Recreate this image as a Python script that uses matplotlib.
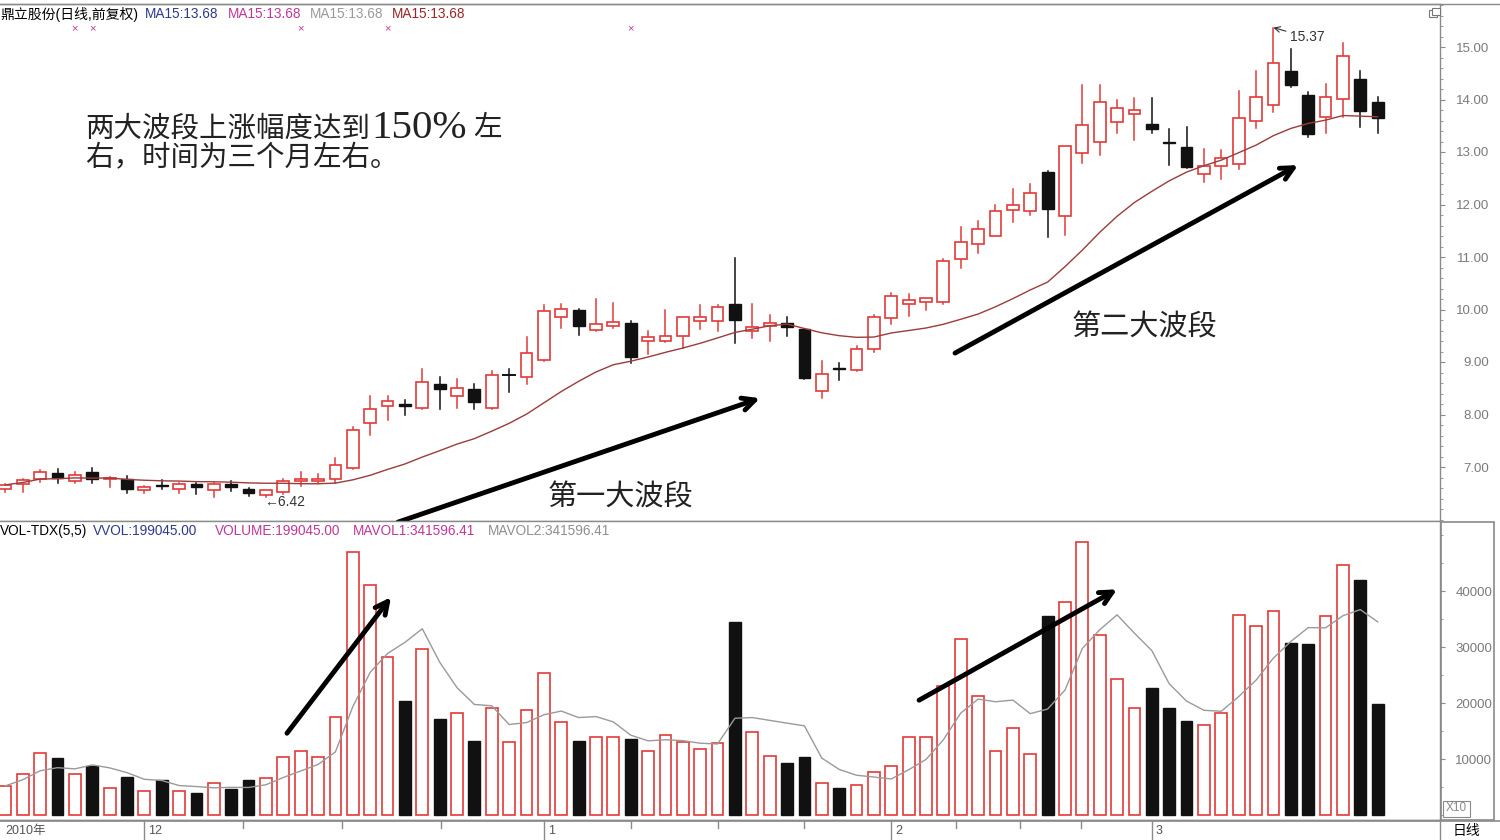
import matplotlib
matplotlib.use('Agg')
import matplotlib.pyplot as plt
import matplotlib.transforms as mtransforms
from matplotlib.patches import Rectangle
from matplotlib.lines import Line2D
from matplotlib.ticker import MultipleLocator
import pandas as pd

plt.rcParams['font.family'] = ['Liberation Sans', 'Noto Sans CJK SC', 'DejaVu Sans']

# ---------------- data ----------------
opens = [6.58, 6.67, 6.78, 6.88, 6.74, 6.91, 6.77, 6.77, 6.56, 6.66,
         6.59, 6.67, 6.56, 6.67, 6.58, 6.47, 6.52, 6.74, 6.74, 6.78,
         6.98, 7.84, 8.17, 8.20, 8.12, 8.58, 8.35, 8.48, 8.13, 8.75,
         8.72, 9.04, 9.85, 9.99, 9.61, 9.69, 9.75, 9.40, 9.40, 9.50,
         9.79, 9.79, 10.10, 9.60, 9.69, 9.74, 9.62, 8.45, 8.89, 8.85,
         9.24, 9.83, 10.10, 10.15, 10.15, 10.96, 11.25, 11.40, 11.90, 11.88,
         12.62, 11.79, 12.99, 13.20, 13.58, 13.72, 13.53, 13.19, 13.09, 12.58,
         12.74, 12.78, 13.59, 13.90, 14.55, 14.09, 13.67, 14.01, 14.40, 13.96]
highs = [6.68, 6.77, 6.94, 6.96, 6.90, 6.98, 6.81, 6.82, 6.63, 6.75,
         6.70, 6.70, 6.70, 6.73, 6.60, 6.57, 6.77, 6.90, 6.86, 7.17,
         7.76, 8.35, 8.35, 8.28, 8.86, 8.72, 8.67, 8.58, 8.83, 8.86,
         9.47, 10.08, 10.10, 10.01, 10.20, 10.13, 9.79, 9.60, 10.00, 9.86,
         10.09, 10.09, 10.98, 10.10, 9.90, 9.85, 9.63, 9.02, 8.98, 9.30,
         9.90, 10.32, 10.30, 10.21, 10.96, 11.58, 11.69, 11.99, 12.29, 12.40,
         12.63, 13.12, 14.28, 14.28, 13.99, 14.02, 14.02, 13.43, 13.47, 13.05,
         13.04, 14.17, 14.55, 15.37, 14.96, 14.15, 14.30, 15.08, 14.54, 14.04]
lows = [6.52, 6.53, 6.71, 6.69, 6.69, 6.69, 6.62, 6.50, 6.50, 6.59,
        6.50, 6.49, 6.43, 6.54, 6.45, 6.42, 6.48, 6.64, 6.69, 6.70,
        6.96, 7.61, 7.90, 7.99, 8.10, 8.10, 8.12, 8.10, 8.10, 8.43,
        8.59, 9.02, 9.64, 9.51, 9.60, 9.64, 8.99, 9.15, 9.38, 9.26,
        9.62, 9.60, 9.37, 9.45, 9.40, 9.50, 8.68, 8.31, 8.66, 8.83,
        9.20, 9.72, 9.88, 10.00, 10.10, 10.80, 11.08, 11.40, 11.67, 11.80,
        11.39, 11.42, 12.79, 12.94, 13.37, 13.23, 13.36, 12.75, 12.70, 12.43,
        12.48, 12.67, 13.46, 13.77, 14.23, 13.29, 13.37, 13.67, 13.47, 13.37]
closes = [6.66, 6.75, 6.90, 6.80, 6.85, 6.77, 6.80, 6.58, 6.62, 6.64,
          6.68, 6.61, 6.68, 6.61, 6.51, 6.56, 6.74, 6.78, 6.78, 7.04,
          7.70, 8.10, 8.26, 8.17, 8.62, 8.49, 8.51, 8.23, 8.75, 8.75,
          9.18, 9.97, 10.01, 9.69, 9.72, 9.77, 9.10, 9.47, 9.50, 9.85,
          9.85, 10.04, 9.80, 9.67, 9.74, 9.66, 8.70, 8.78, 8.87, 9.25,
          9.85, 10.26, 10.18, 10.21, 10.92, 11.28, 11.53, 11.88, 11.99, 12.22,
          11.91, 13.11, 13.51, 13.95, 13.83, 13.80, 13.44, 13.17, 12.72, 12.74,
          12.88, 13.65, 14.04, 14.70, 14.28, 13.34, 14.05, 14.83, 13.78, 13.64]
volumes = [5200, 7400, 11100, 10100, 7400, 8700, 4800, 6800, 4200, 6300,
           4200, 3900, 5700, 4600, 6200, 6600, 10400, 11500, 10400, 17500,
           46900, 41100, 28300, 20300, 29700, 17100, 18300, 13300, 19100, 13000,
           18800, 25300, 16600, 13300, 13900, 14000, 13500, 11500, 14300, 13100,
           11700, 12800, 34500, 14900, 10600, 9200, 10400, 5700, 4800, 5400,
           7600, 8700, 13900, 14000, 23000, 31400, 21200, 11500, 15500, 10900,
           35500, 38100, 48700, 32200, 24200, 19100, 22600, 19100, 16700, 16000,
           18200, 35700, 33800, 36400, 30800, 30600, 35500, 44600, 41900, 19900]

month_labels = ['12', '1', '2', '3']
month_start_idx = [8, 31, 51, 66]
minor_date_ticks = [13.7, 19.4, 25.1, 36.0, 41.0, 46.0, 54.7, 58.4, 61.9]
signal_mark_idx = [4, 5, 17, 22, 36]
price_ticks = [7, 8, 9, 10, 11, 12, 13, 14, 15]
vol_ticks = [10000, 20000, 30000, 40000]

# ---------------- figure ----------------
W, H = 1500, 840
fig = plt.figure(figsize=(W / 100, H / 100), dpi=100)


def fy(py):
    return 1 - py / H


RED = '#e23a3a'
BLACK = '#111111'
GRID = '#8a8a8a'
LBL = '#7a7a7a'

ax_p = fig.add_axes([0, fy(521), 1440 / W, (521 - 4) / H])
ax_v = fig.add_axes([0, fy(820), 1440 / W, (820 - 521) / H], sharex=ax_p)
ax_d = fig.add_axes([0, 0, 1440 / W, (840 - 820) / H], sharex=ax_p)

n = len(closes)
xs = list(range(n))
bw = 0.68

# candles
for i, o, h, l, c in zip(xs, opens, highs, lows, closes):
    if c > o:
        ax_p.plot([i, i], [c, h], color=RED, lw=1.1, zorder=2)
        ax_p.plot([i, i], [l, o], color=RED, lw=1.1, zorder=2)
        ax_p.add_patch(Rectangle((i - bw / 2, o), bw, c - o, facecolor='white',
                                 edgecolor=RED, lw=1.2, zorder=3))
    elif c < o:
        ax_p.plot([i, i], [l, h], color=BLACK, lw=1.1, zorder=2)
        ax_p.add_patch(Rectangle((i - bw / 2, c), bw, o - c, facecolor=BLACK,
                                 edgecolor=BLACK, lw=1.0, zorder=3))
    else:
        ax_p.plot([i, i], [l, h], color=BLACK, lw=1.1, zorder=2)
        ax_p.plot([i - bw / 2, i + bw / 2], [o, o], color=BLACK, lw=1.4, zorder=3)

ma15 = pd.Series(closes).rolling(15, min_periods=1).mean()
ax_p.plot(xs, ma15, color='#9b3b3b', lw=1.0, zorder=4)

# volume
for i, o, c, v in zip(xs, opens, closes, volumes):
    if c >= o:
        ax_v.bar(i, v, width=bw, bottom=0, facecolor='white', edgecolor=RED, lw=1.2, zorder=3)
    else:
        ax_v.bar(i, v, width=bw, bottom=0, facecolor=BLACK, edgecolor=BLACK, lw=1.0, zorder=3)
mavol = pd.Series(volumes).rolling(5, min_periods=1).mean()
ax_v.plot(xs, mavol, color='#9a9a9a', lw=1.0, zorder=4)

# limits
x0 = -5.4 / 17.37
x1 = (1440 - 5.4) / 17.37
ax_p.set_xlim(x0, x1)
ax_p.set_ylim(15 - 474 / 52.5, 15 + 43 / 52.5)
ax_v.set_ylim((815 - 820) / 5.6 * 1000, (815 - 521) / 5.6 * 1000)
ax_d.set_ylim(0, 1)

for ax in (ax_p, ax_v, ax_d):
    ax.set_facecolor('white')
    ax.spines['left'].set_visible(False)
    for s in ('top', 'right', 'bottom'):
        ax.spines[s].set_color(GRID)
        ax.spines[s].set_linewidth(1.0)
    ax.tick_params(axis='x', which='both', bottom=False, labelbottom=False)

# price axis ticks (right)
ax_p.yaxis.tick_right()
ax_p.set_yticks(price_ticks)
ax_p.set_yticklabels(['%.2f' % t for t in price_ticks])
ax_p.yaxis.set_minor_locator(MultipleLocator(0.2))
ax_p.tick_params(axis='y', which='major', direction='out', length=3.5, width=0.8,
                 color=GRID, labelcolor=LBL, labelsize=9.5, pad=32)
ax_p.tick_params(axis='y', which='minor', direction='out', length=2, width=0.6, color=GRID)
for t in ax_p.get_yticklabels():
    t.set_horizontalalignment('right')

ax_v.yaxis.tick_right()
ax_v.set_yticks(vol_ticks)
ax_v.set_yticklabels([str(t) for t in vol_ticks])
ax_v.yaxis.set_minor_locator(MultipleLocator(5000))
ax_v.tick_params(axis='y', which='major', direction='out', length=3.5, width=0.8,
                 color=GRID, labelcolor=LBL, labelsize=9.5, pad=34)
ax_v.tick_params(axis='y', which='minor', direction='out', length=2, width=0.6, color=GRID)
for t in ax_v.get_yticklabels():
    t.set_horizontalalignment('right')

# date strip
ax_d.set_yticks([])
ax_d.spines['bottom'].set_visible(False)
for m in month_start_idx:
    ax_d.axvline(m, color=GRID, lw=1.0)
for m in minor_date_ticks:
    ax_d.plot([m, m], [0.95, 0.6], color=GRID, lw=1.0)
ax_d.annotate('2010年', xy=(x0, 0.45), xytext=(4, 0), textcoords='offset points',
              ha='left', va='center', fontsize=9, color='#555555')
for lab, m in zip(month_labels, month_start_idx):
    ax_d.annotate(lab, xy=(m, 0.45), xytext=(3, 0), textcoords='offset points',
                  ha='left', va='center', fontsize=9, color='#555555')

# ---------------- chrome / texts ----------------
fig.add_artist(Line2D([0, 1], [fy(4), fy(4)], color=GRID, lw=1.0))
fig.add_artist(Line2D([0, 1], [fy(821), fy(821)], color=GRID, lw=1.2))
fig.add_artist(Rectangle((1441 / W, fy(820)), 53 / W, (820 - 522) / H, fill=False,
                         edgecolor=GRID, lw=1.2))
fig.add_artist(Rectangle((1443 / W, fy(817)), 27 / W, 16 / H, fill=False,
                         edgecolor=GRID, lw=0.8))
fig.text(1456 / W, fy(808), 'X10', ha='center', va='center', fontsize=8.5, color='#8a8a8a')
fig.text(1466 / W, fy(831), '日线', ha='center', va='center', fontsize=10, color='black')
# restore icon
fig.add_artist(Rectangle((1429 / W, fy(17)), 8 / W, 7 / H, fill=False, edgecolor='#777777', lw=0.8))
fig.add_artist(Rectangle((1431.5 / W, fy(14.5)), 8 / W, 7 / H, facecolor='white', edgecolor='#777777', lw=0.8))

# legends
fig.text(0, fy(14), '鼎立股份(日线,前复权)', ha='left', va='center', fontsize=10, color='black')
for xp, col in zip([145, 228, 310, 392], ['#2d3a8c', '#c0379a', '#9a9a9a', '#9b2525']):
    fig.text(xp / W, fy(14), 'MA15:13.68', ha='left', va='center', fontsize=9.8, color=col)

vol_legend = [(0, 'VOL-TDX(5,5)', 'black'), (93, 'VVOL:199045.00', '#2d3a8c'),
              (215, 'VOLUME:199045.00', '#c0379a'), (353, 'MAVOL1:341596.41', '#c0379a'),
              (488, 'MAVOL2:341596.41', '#8f8f8f')]
for xp, s, col in vol_legend:
    fig.text(xp / W, fy(531), s, ha='left', va='center', fontsize=9.8, color=col)

# signal marks
tr_mark = mtransforms.blended_transform_factory(ax_p.transData, ax_p.transAxes)
for i in signal_mark_idx:
    ax_p.text(i, (521 - 28) / 517, '×', transform=tr_mark, ha='center', va='center',
              fontsize=8, color='#c0379a')

# high / low labels
imax = highs.index(max(highs))
ax_p.annotate('%.2f' % max(highs), xy=(imax, max(highs)), xytext=(12, -7),
              textcoords='offset points', ha='left', va='center', fontsize=10, color='#333333',
              arrowprops=dict(arrowstyle='->', lw=0.8, color='#333333', shrinkA=1, shrinkB=0))
imin = lows.index(min(lows))
ax_p.annotate('←%.2f' % min(lows), xy=(imin, min(lows)), xytext=(-1, -3),
              textcoords='offset points', ha='left', va='center', fontsize=10, color='#333333')

# big annotations
cjk = ['Noto Sans CJK SC', 'DejaVu Sans']
TXT = '#222222'
fig.text(85 / W, fy(128), '两大波段上涨幅度达到', ha='left', va='center',
         fontsize=20.5, family=cjk, color=TXT)
fig.text(371 / W, fy(129), '150%', ha='left', va='center',
         fontsize=29.5, family=['Liberation Serif', 'DejaVu Serif'], color=TXT)
fig.text(473 / W, fy(128), '左', ha='left', va='center',
         fontsize=20.5, family=cjk, color=TXT)
fig.text(85 / W, fy(158), '右，时间为三个月左右。', ha='left', va='center',
         fontsize=20.5, family=cjk, color=TXT)
fig.text(548 / W, fy(497), '第一大波段', ha='left', va='center', fontsize=21, family=cjk, color=TXT)
fig.text(1072 / W, fy(327), '第二大波段', ha='left', va='center', fontsize=21, family=cjk, color=TXT)

arrow_kw = dict(arrowstyle='->,head_length=0.9,head_width=0.45', lw=3.5, color='black',
                shrinkA=0, shrinkB=0)
a1 = ax_p.annotate('', xy=(43.44, 8.31), xytext=(22.6, 5.95), arrowprops=arrow_kw,
                   annotation_clip=False)
a2 = ax_p.annotate('', xy=(74.42, 12.75), xytext=(54.67, 9.17), arrowprops=arrow_kw,
                   annotation_clip=False)
a3 = ax_v.annotate('', xy=(22.2, 38900), xytext=(16.21, 14600), arrowprops=arrow_kw,
                   annotation_clip=False)
a4 = ax_v.annotate('', xy=(64.0, 40300), xytext=(52.6, 20500), arrowprops=arrow_kw,
                   annotation_clip=False)
for a in (a1, a2, a3, a4):
    a.arrow_patch.set_clip_on(False)
    a.set_zorder(10)

fig.savefig('out.png', dpi=100, facecolor='white')
